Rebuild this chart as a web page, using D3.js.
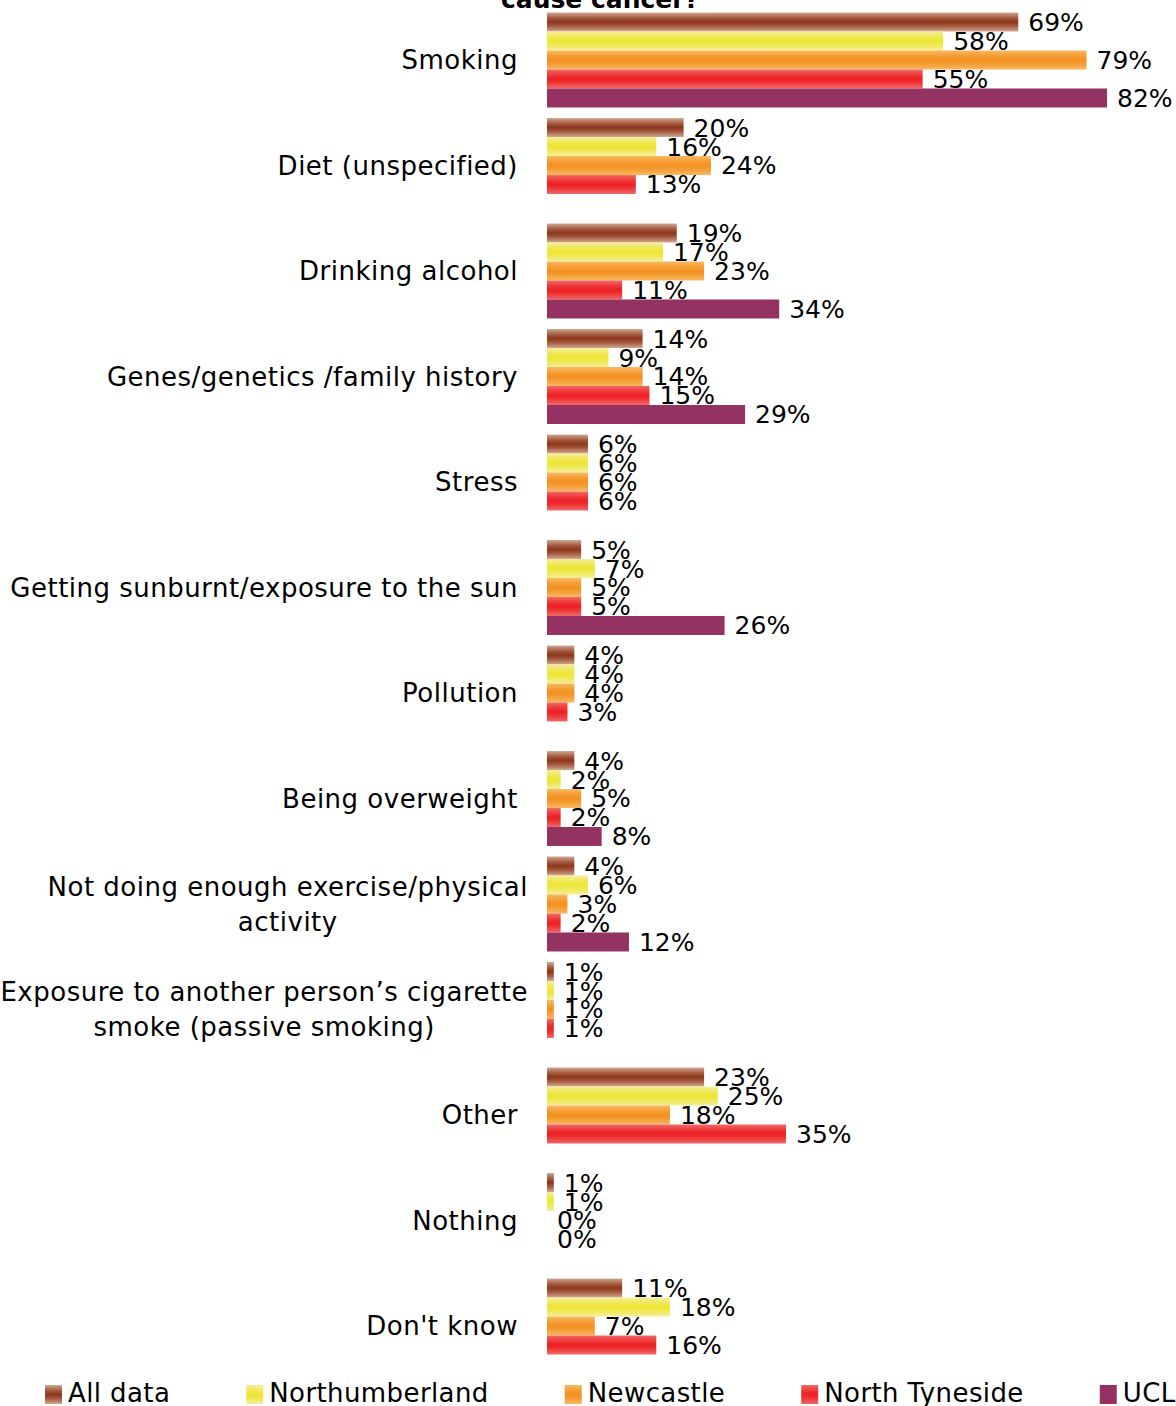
<!DOCTYPE html>
<html>
<head>
<meta charset="utf-8">
<script src="https://cdn.jsdelivr.net/npm/d3@7"></script>
<style>
  html, body { margin: 0; padding: 0; background: #fff; }
  svg { display: block; font-family: "DejaVu Sans", Verdana, sans-serif; }
</style>
</head>
<body>
<svg id="chart" width="1176" height="1406"></svg>
<script>
// Survey answers: what people think can cause cancer (% of respondents)
const categories = [
  "Smoking",
  "Diet (unspecified)",
  "Drinking alcohol",
  "Genes/genetics /family history",
  "Stress",
  "Getting sunburnt/exposure to the sun",
  "Pollution",
  "Being overweight",
  "Not doing enough exercise/physical\nactivity",
  "Exposure to another person’s cigarette\nsmoke (passive smoking)",
  "Other",
  "Nothing",
  "Don't know"
];
const seriesNames = ["All data", "Northumberland", "Newcastle", "North Tyneside", "UCL"];
const allData       = [69, 20, 19, 14, 6, 5, 4, 4, 4, 1, 23, 1, 11];
const northumberland = [58, 16, 17, 9, 6, 7, 4, 2, 6, 1, 25, 1, 18];
const newcastle     = [79, 24, 23, 14, 6, 5, 4, 5, 3, 1, 18, 0, 7];
const northTyneside = [55, 13, 11, 15, 6, 5, 3, 2, 2, 1, 35, 0, 16];
const ucl           = [82, null, 34, 29, null, 26, null, 8, 12, null, null, null, null];
const seriesValues = [allData, northumberland, newcastle, northTyneside, ucl];

const titleText = "cause cancer?";

// Bar fills: banded vertical gradients (light edges, saturated middle); UCL is flat
const fills = [
  { id: "g0", edge: "#d2a892", mid: "#8e361a" },
  { id: "g1", edge: "#f4ef9e", mid: "#ede533" },
  { id: "g2", edge: "#f9b963", mid: "#f39020" },
  { id: "g3", edge: "#f16a67", mid: "#ec1f23" },
  { id: null, flat: "#943262" }
];

const svg = d3.select("#chart");
const defs = svg.append("defs");
fills.forEach(f => {
  if (!f.id) return;
  const lg = defs.append("linearGradient")
    .attr("id", f.id).attr("x1", 0).attr("y1", 0).attr("x2", 0).attr("y2", 1);
  const mixed = d3.interpolateRgb(f.edge, f.mid);
  [[0, 0], [0.12, 0.3], [0.3, 0.7], [0.5, 1], [0.7, 0.7], [0.88, 0.3], [1, 0]]
    .forEach(([o, t]) => lg.append("stop").attr("offset", o).attr("stop-color", mixed(t)));
});
const fillOf = i => fills[i].id ? `url(#${fills[i].id})` : fills[i].flat;

// Scales
const x = d3.scaleLinear().domain([0, 100]).range([547, 1230]);
const y = d3.scaleBand().domain(categories).range([7.25, 1378.75])
  .paddingInner(0.1).paddingOuter(0.05);
const ySeries = d3.scaleBand().domain(d3.range(seriesNames.length)).range([0, y.bandwidth()]);

// Title (second line of a wrapped heading, partially above the frame)
svg.append("text")
  .attr("x", 600).attr("y", 8)
  .attr("text-anchor", "middle")
  .attr("font-weight", "bold")
  .attr("font-size", 25)
  .attr("fill", "#000")
  .text(titleText);

// Rows of bars
const rows = categories.map((c, ci) => ({
  cat: c,
  bars: seriesValues.map((vals, si) => ({ si, v: vals[ci] })).filter(b => b.v !== null)
}));

const groups = svg.append("g").selectAll("g.row")
  .data(rows).join("g")
  .attr("class", "row")
  .attr("transform", d => `translate(0,${y(d.cat)})`);

groups.selectAll("rect")
  .data(d => d.bars).join("rect")
  .attr("x", x(0))
  .attr("y", d => ySeries(d.si))
  .attr("width", d => x(d.v) - x(0))
  .attr("height", ySeries.bandwidth())
  .attr("fill", d => fillOf(d.si));

groups.selectAll("text.val")
  .data(d => d.bars).join("text")
  .attr("class", "val")
  .attr("x", d => x(d.v) + 10)
  .attr("y", d => ySeries(d.si) + ySeries.bandwidth() / 2 + 9)
  .attr("font-size", 25)
  .attr("fill", "#000")
  .text(d => d.v + "%");

// Category labels (wrapped ones are centred on their longest line)
const labelRight = 518, wrappedRight = 528, lineGap = 35;
const catLabels = svg.append("g")
  .attr("font-size", 26).attr("letter-spacing", 0.5).attr("fill", "#000");
categories.forEach(c => {
  const lines = c.split("\n");
  const cy = y(c) + y.bandwidth() / 2;
  if (lines.length === 1) {
    catLabels.append("text")
      .attr("x", labelRight).attr("y", cy + 9)
      .attr("text-anchor", "end").text(c);
  } else {
    const t = catLabels.append("text").attr("text-anchor", "middle");
    const spans = lines.map((ln, i) => t.append("tspan")
      .attr("y", cy + 9 + (i - (lines.length - 1) / 2) * lineGap).text(ln));
    const widest = d3.max(spans, s => s.node().getComputedTextLength());
    spans.forEach(s => s.attr("x", wrappedRight - widest / 2));
  }
});

// Legend along the bottom edge
const legend = svg.append("g")
  .attr("font-size", 26).attr("letter-spacing", 0.4).attr("fill", "#000");
let lx = 45;
seriesNames.forEach((name, i) => {
  legend.append("rect")
    .attr("x", lx).attr("y", 1385).attr("width", 17).attr("height", 19)
    .attr("fill", fillOf(i));
  const t = legend.append("text").attr("x", lx + 23).attr("y", 1402).text(name);
  lx = lx + 23 + t.node().getComputedTextLength() + 76;
});
</script>
</body>
</html>
